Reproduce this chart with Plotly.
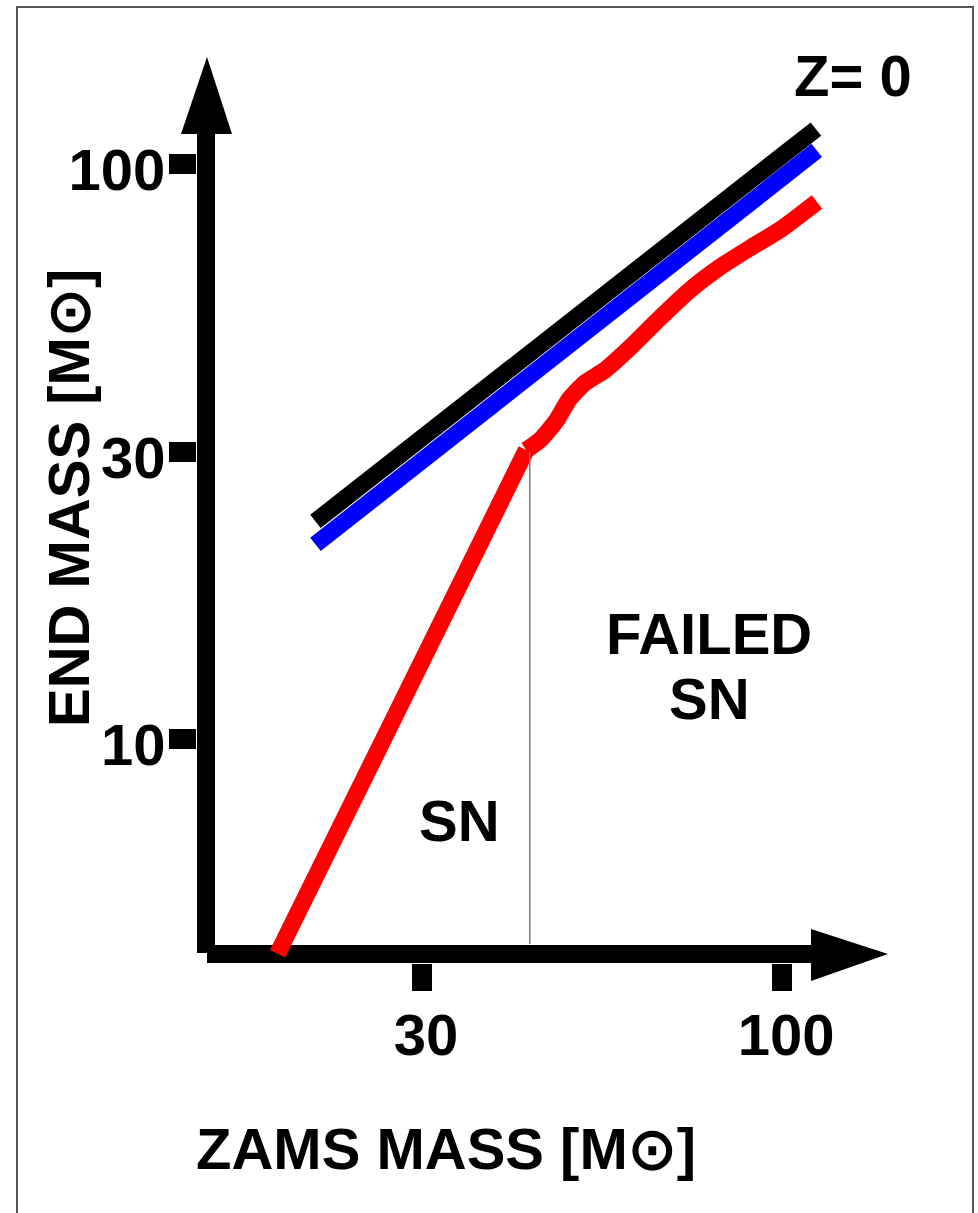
import math
import plotly.graph_objects as go

# ---------------- data ----------------
zams_black = [21.0, 112.0]
end_black = [23.9, 115.0]

zams_blue = [21.0, 112.3]
end_blue = [21.8, 105.6]

zams_red_sn = [18.5, 42.5]
end_red_sn = [4.23, 31.8]

zams_red_failed = [42.5, 44.5, 47.1, 49.0, 51.7, 55.3, 60.1, 66.5, 73.5, 81.3, 89.8, 99.3, 112.4]
end_red_failed = [31.8, 33.1, 35.9, 38.9, 41.6, 43.8, 47.9, 54.0, 60.4, 66.2, 71.4, 76.8, 85.9]

divider_zams = [43.0, 43.0]
divider_end = [31.6, 4.4]

x_tick_vals = [30, 100]
x_tick_text = ["30", "100"]
y_tick_vals = [10, 31.6, 100]
y_tick_text = ["10", "30", "100"]

# ---------------- layout geometry (page pixels) ----------------
W, H = 978, 1213
L, R, T, B = 197, 830, 110, 963
PW, PH = R - L, B - T


def px(xp):
    return (xp - L) / PW


def py(yp):
    return (B - yp) / PH


FONT = "Liberation Sans, Arial, Helvetica, sans-serif"

fig = go.Figure()
fig.add_trace(go.Scatter(x=zams_black, y=end_black, mode="lines",
                         line=dict(color="black", width=17)))
fig.add_trace(go.Scatter(x=zams_blue, y=end_blue, mode="lines",
                         line=dict(color="#0000ff", width=17)))
fig.add_trace(go.Scatter(x=zams_red_sn, y=end_red_sn, mode="lines",
                         line=dict(color="#ff0000", width=17)))
fig.add_trace(go.Scatter(x=zams_red_failed, y=end_red_failed, mode="lines",
                         line=dict(color="#ff0000", width=17, shape="spline", smoothing=0.6)))
fig.add_trace(go.Scatter(x=divider_zams, y=divider_end, mode="lines",
                         line=dict(color="#777777", width=1.5)))

shapes = [
    # frame
    dict(type="rect", xref="paper", yref="paper", x0=px(17), x1=px(973), y0=py(1240), y1=py(7),
         line=dict(color="#555555", width=2), fillcolor="rgba(0,0,0,0)", layer="below"),
    # y axis line
    dict(type="rect", xref="paper", yref="paper", x0=px(197), x1=px(215), y0=py(953), y1=py(133),
         line=dict(width=0), fillcolor="black", layer="below"),
    # x axis line
    dict(type="rect", xref="paper", yref="paper", x0=px(207), x1=px(812), y0=py(963), y1=py(945),
         line=dict(width=0), fillcolor="black", layer="below"),
    # y arrow head
    dict(type="path", xref="paper", yref="paper",
         path=f"M {px(181)} {py(134)} L {px(232)} {py(134)} L {px(207)} {py(57)} Z",
         line=dict(width=0), fillcolor="black", layer="below"),
    # x arrow head
    dict(type="path", xref="paper", yref="paper",
         path=f"M {px(811)} {py(929)} L {px(811)} {py(981)} L {px(888)} {py(954)} Z",
         line=dict(width=0), fillcolor="black", layer="below"),
]

big = dict(family=FONT, size=58, color="black", weight="bold")

annotations = [
    dict(text="Z= 0", x=px(853), y=py(75), xref="paper", yref="paper",
         showarrow=False, xanchor="center", yanchor="middle", font=big),
    dict(text="FAILED", x=px(709), y=py(633), xref="paper", yref="paper",
         showarrow=False, xanchor="center", yanchor="middle", font=big),
    dict(text="SN", x=px(709), y=py(698), xref="paper", yref="paper",
         showarrow=False, xanchor="center", yanchor="middle", font=big),
    dict(text="SN", x=px(459), y=py(820), xref="paper", yref="paper",
         showarrow=False, xanchor="center", yanchor="middle", font=big),
    dict(text="ZAMS MASS [M⊙]", x=px(446), y=py(1148), xref="paper", yref="paper",
         showarrow=False, xanchor="center", yanchor="middle", font=big),
    dict(text="END MASS [M⊙]", x=px(69), y=py(498), xref="paper", yref="paper",
         showarrow=False, xanchor="center", yanchor="middle", textangle=-90, font=big),
]

fig.update_layout(
    width=W, height=H,
    margin=dict(l=L, r=W - R, t=T, b=H - B, pad=0),
    paper_bgcolor="white", plot_bgcolor="white",
    showlegend=False,
    hovermode=False,
    shapes=shapes,
    annotations=annotations,
    xaxis=dict(type="log", range=[math.log10(14.13), math.log10(117.4)],
               tickmode="array", tickvals=x_tick_vals, ticktext=x_tick_text,
               ticks="outside", ticklen=27, tickwidth=20, tickcolor="black",
               showgrid=False, zeroline=False, showline=False,
               tickfont=big, ticklabelstandoff=-6, ticklabelshift=4),
    yaxis=dict(type="log", range=[0.6104, 2.0939],
               tickmode="array", tickvals=y_tick_vals, ticktext=y_tick_text,
               ticks="outside", ticklen=27, tickwidth=20, tickcolor="black",
               showgrid=False, zeroline=False, showline=False,
               tickfont=big, ticklabelstandoff=-8, ticklabelshift=6),
)

fig.write_html("out.html",
               config={"displayModeBar": False, "staticPlot": True},
               post_script="document.body.style.margin='0';document.body.style.overflow='hidden';")
